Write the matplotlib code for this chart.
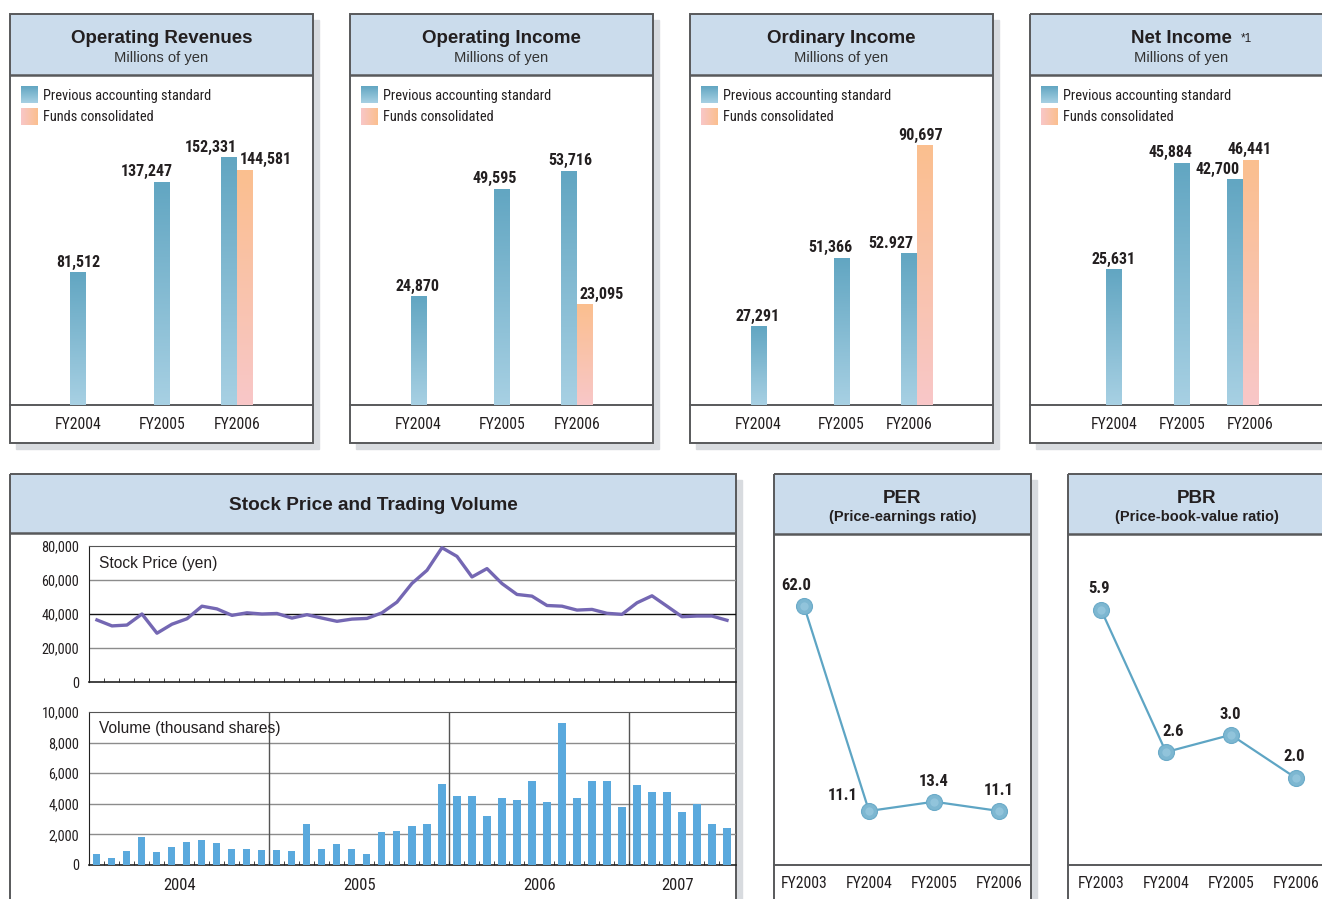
import numpy as np
import matplotlib
matplotlib.use('Agg')
import matplotlib.pyplot as plt
from matplotlib import font_manager as fm
from matplotlib.patches import Rectangle
from matplotlib.colors import LinearSegmentedColormap

W, H = 1322, 899

# ---- data ----
fy_bar = ['FY2004', 'FY2005', 'FY2006']
op_rev = [81512, 137247, 152331]
op_rev_funds = 144581
op_inc = [24870, 49595, 53716]
op_inc_funds = 23095
ord_inc = [27291, 51366, 52927]
ord_inc_funds = 90697
net_inc = [25631, 45884, 42700]
net_inc_funds = 46441

# monthly, stock price (yen) and volume (thousand shares)
price = [36500, 33000, 33500, 40000, 28700, 34000, 37200, 44600, 43000, 39200,
         40700, 40000, 40300, 37600, 39600, 37600, 35700, 37000, 37400, 40700,
         47000, 58000, 65700, 79000, 73900, 61800, 66700, 57900, 51500, 50500,
         45000, 44600, 42300, 42700, 40400, 39800, 46600, 50700, 44600, 38400,
         38800, 38800, 36300]
volume = [750, 430, 900, 1800, 840, 1160, 1480, 1610, 1420, 1030, 1030, 970,
          970, 900, 2710, 1030, 1350, 1030, 750, 2130, 2190, 2580, 2650, 5270,
          4520, 4520, 3230, 4390, 4260, 5480, 4130, 9290, 4390, 5480, 5480, 3810,
          5230, 4770, 4770, 3480, 4000, 2710, 2450]
years = ['2004', '2005', '2006', '2007']

fy_ratio = ['FY2003', 'FY2004', 'FY2005', 'FY2006']
per = [62.0, 11.1, 13.4, 11.1]
pbr = [5.9, 2.6, 3.0, 2.0]

# ---- style ----
avail = {f.name for f in fm.fontManager.ttflist}


def pick(*names):
    for n in names:
        if n in avail:
            return n
    return 'DejaVu Sans'


NARROW = pick('Liberation Sans Narrow', 'Roboto Condensed', 'DejaVu Sans')
SANS = pick('Liberation Sans', 'Roboto', 'DejaVu Sans')
INK = '#231f20'
HEAD = '#cbdcec'
EDGE = '#58595b'
BLUE_TOP, BLUE_BOT = '#62a6c2', '#a7d0e3'
ORNG_TOP, ORNG_BOT = '#fbbf8f', '#f8c7c8'

fig = plt.figure(figsize=(W / 100, H / 100), dpi=100)


def px_axes(x0, y0, x1, y1, z=1):
    ax = fig.add_axes([x0 / W, 1 - y1 / H, (x1 - x0) / W, (y1 - y0) / H])
    ax.set_zorder(z)
    return ax


def frame(x0, y0, x1, y1, head_h):
    w, h = x1 - x0, y1 - y0
    fig.patches.append(Rectangle(((x0 + 6) / W, 1 - (y1 + 6) / H), w / W, h / H,
                                 transform=fig.transFigure, color='#d8dbdf', zorder=-5))
    ax = px_axes(x0, y0, x1, y1, z=0)
    ax.set_xlim(0, w)
    ax.set_ylim(h, 0)
    ax.axis('off')
    ax.add_patch(Rectangle((0, 0), w, h, facecolor='white', edgecolor='none'))
    ax.add_patch(Rectangle((0, 0), w, head_h, facecolor=HEAD, edgecolor='none'))
    ax.plot([0, w], [head_h, head_h], color=EDGE, lw=1.8)
    ax.add_patch(Rectangle((0, 0), w, h, fill=False, edgecolor=EDGE, lw=1.4, clip_on=False, zorder=5))
    return ax


def grad(ax, extent, c0, c1, horizontal=False, z=3):
    cm = LinearSegmentedColormap.from_list('g', [c0, c1])
    arr = np.linspace(0, 1, 100)
    arr = arr.reshape(1, -1) if horizontal else arr.reshape(-1, 1)
    ax.imshow(arr, cmap=cm, origin='lower', extent=extent, aspect='auto',
              interpolation='bilinear', zorder=z)


def bar_panel(x0, title, prev, funds, texts, ymax, bar_x, lab_pos, tick_x, note=False):
    w = 303
    fr = frame(x0, 14, x0 + w, 443, 61)
    fr.text(w / 2, 24.5, title, ha='center', va='center', fontsize=13.5, fontweight='bold',
            family=SANS, color=INK)
    if note:
        fr.text(211, 24.5, '*1', ha='left', va='center', fontsize=8.5, family=SANS, color=INK)
    fr.text(w / 2, 44, 'Millions of yen', ha='center', va='center', fontsize=10.6, family=SANS,
            color='#333333')
    # legend
    grad(fr, (11, 28, 89, 72), BLUE_BOT, BLUE_TOP)
    grad(fr, (11, 28, 111, 94), ORNG_BOT, ORNG_TOP, horizontal=True)
    fr.set_xlim(0, w)
    fr.set_ylim(429, 0)
    fr.text(33, 82, 'Previous accounting standard', va='center', fontsize=10.4, family=NARROW, color=INK)
    fr.text(33, 103, 'Funds consolidated', va='center', fontsize=10.4, family=NARROW, color=INK)

    ax = px_axes(x0, 75, x0 + w, 405)
    ax.patch.set_alpha(0)
    xs = [bar_x[0], bar_x[1], bar_x[2] - 8]
    bars = ax.bar(xs, prev, width=16, color=BLUE_TOP)
    fb = ax.bar([bar_x[2] + 7.75], [funds], width=15.5, color=ORNG_TOP)
    for p in list(bars) + list(fb):
        c0, c1 = (BLUE_BOT, BLUE_TOP) if p in bars.patches else (ORNG_BOT, ORNG_TOP)
        grad(ax, (p.get_x(), p.get_x() + p.get_width(), 0, p.get_height()), c0, c1)
    vals = list(prev) + [funds]
    for v, t, (lx, ha) in zip(vals, texts, lab_pos):
        ax.annotate(t, (lx, v), xytext=(0, 3), textcoords='offset pixels', ha=ha, va='bottom',
                    fontsize=11.5, fontweight='bold', family=NARROW, color=INK)
    ax.set_xlim(0, w)
    ax.set_ylim(0, ymax)
    ax.set_yticks([])
    ax.set_xticks(tick_x, fy_bar)
    ax.tick_params(axis='x', length=0, pad=8.5, labelsize=11.3, labelcolor=INK)
    for lab in ax.get_xticklabels():
        lab.set_family(NARROW)
    for s in ['top', 'left', 'right']:
        ax.spines[s].set_visible(False)
    ax.spines['bottom'].set_color(EDGE)
    ax.spines['bottom'].set_linewidth(1.4)


bar_panel(10, 'Operating Revenues', op_rev, op_rev_funds,
          ['81,512', '137,247', '152,331', '144,581'], 203400, [68, 152, 227],
          [(68, 'center'), (137, 'center'), (227, 'right'), (230, 'left')], [68, 152, 227])
bar_panel(350, 'Operating Income', op_inc, op_inc_funds,
          ['24,870', '49,595', '53,716', '23,095'], 75900, [69, 152, 227],
          [(68, 'center'), (144.5, 'center'), (220, 'center'), (230, 'left')], [68, 152, 227])
bar_panel(690, 'Ordinary Income', ord_inc, ord_inc_funds,
          ['27,291', '51,366', '52.927', '90,697'], 115400, [69, 152, 227],
          [(68, 'center'), (140, 'center'), (223, 'right'), (231, 'center')], [68, 151, 219])
bar_panel(1030, 'Net Income', net_inc, net_inc_funds,
          ['25,631', '45,884', '42,700', '46,441'], 62600, [84, 152, 213],
          [(84, 'center'), (140, 'center'), (210, 'right'), (220, 'center')], [84, 152, 220], note=True)

# ---- stock price and volume ----
fr = frame(10, 474, 736, 910, 59)
fr.text(363, 32, 'Stock Price and Trading Volume', ha='center', va='center', fontsize=13.7,
        fontweight='bold', family=SANS, color=INK)

months = np.arange(len(price))
XL = (-0.53, 42.6)

axp = px_axes(89, 546, 736, 682)
axp.patch.set_alpha(0)
for yv, c in [(20000, '#8c8c8c'), (40000, '#111111'), (60000, '#8c8c8c')]:
    axp.axhline(yv, color=c, lw=1, zorder=1)
axp.plot(months, price, color='#7467b3', lw=2.4, zorder=3, solid_joinstyle='round')
axp.set_xlim(*XL)
axp.set_ylim(0, 80000)
axp.set_yticks(range(0, 80001, 20000), [f'{v:,}' for v in range(0, 80001, 20000)])
axp.set_xticks([])
axp.set_xticks(np.arange(0.5, len(price) - 1, 1), minor=True)
axp.tick_params(axis='y', length=0, pad=7, labelsize=10.3, labelcolor=INK)
axp.tick_params(axis='x', which='minor', direction='in', length=3, color='#222222')
for lab in axp.get_yticklabels():
    lab.set_family(NARROW)
axp.spines['right'].set_visible(False)
axp.spines['top'].set_color('#555555')
axp.spines['left'].set_color('#222222')
axp.spines['bottom'].set_color('#222222')
axp.spines['bottom'].set_linewidth(1.2)
axp.text(0.0155, 0.87, 'Stock Price (yen)', transform=axp.transAxes, va='center',
         fontsize=11.2, family=SANS, color=INK)

axv = px_axes(89, 712, 736, 865)
axv.patch.set_alpha(0)
for yv in range(2000, 10000, 2000):
    axv.axhline(yv, color='#8c8c8c', lw=1, zorder=1)
for xv in [11.5, 23.5, 35.5]:
    axv.axvline(xv, color='#555555', lw=1, zorder=1)
axv.bar(months, volume, width=0.47, color='#5aa9dd', zorder=3)
axv.set_xlim(*XL)
axv.set_ylim(0, 10000)
axv.set_yticks(range(0, 10001, 2000), [f'{v:,}' for v in range(0, 10001, 2000)])
axv.set_xticks([5.5, 17.5, 29.5, 38.7], years)
axv.set_xticks(np.arange(0.5, len(volume) - 1, 1), minor=True)
axv.tick_params(axis='y', length=0, pad=7, labelsize=10.3, labelcolor=INK)
axv.tick_params(axis='x', which='major', length=0, pad=9, labelsize=12, labelcolor=INK)
axv.tick_params(axis='x', which='minor', direction='in', length=3, color='#222222')
for lab in axv.get_yticklabels() + axv.get_xticklabels():
    lab.set_family(NARROW)
axv.spines['right'].set_visible(False)
axv.spines['top'].set_color('#555555')
axv.spines['left'].set_color('#222222')
axv.spines['bottom'].set_color('#222222')
axv.spines['bottom'].set_linewidth(1.2)
axv.text(0.0155, 0.89, 'Volume (thousand shares)', transform=axv.transAxes, va='center',
         fontsize=11.2, family=SANS, color=INK)


# ---- PER / PBR ----
def ratio_panel(x0, title, sub, vals, ylim, xlim, offsets):
    w = 257
    fr = frame(x0, 474, x0 + w, 910, 60)
    fr.text(w / 2, 24.5, title, ha='center', va='center', fontsize=13.5, fontweight='bold',
            family=SANS, color=INK)
    fr.text(w / 2, 42.5, sub, ha='center', va='center', fontsize=10.5, fontweight='bold',
            family=SANS, color=INK)
    ax = px_axes(x0, 534, x0 + w, 865)
    ax.patch.set_alpha(0)
    xs = np.arange(len(vals))
    ax.plot(xs, vals, color='#5ea5c4', lw=1.6, zorder=2)
    ax.plot(xs, vals, 'o', ms=11.5, mfc='#7db7d1', mec='#6aaac8', mew=0.8, zorder=3)
    ax.plot(xs, vals, 'o', ms=6, mfc='#9fcde2', mec='none', alpha=0.6, zorder=4)
    for x, v, (dx, dy) in zip(xs, vals, offsets):
        ax.annotate(f'{v:.1f}', (x, v), xytext=(dx, dy), textcoords='offset pixels',
                    ha='center', va='center', fontsize=12, fontweight='bold',
                    family=NARROW, color=INK)
    ax.set_xlim(*xlim)
    ax.set_ylim(*ylim)
    ax.set_yticks([])
    ax.set_xticks(xs, fy_ratio)
    ax.tick_params(axis='x', length=0, pad=8, labelsize=11.3, labelcolor=INK)
    for lab in ax.get_xticklabels():
        lab.set_family(NARROW)
    for s in ['top', 'left', 'right']:
        ax.spines[s].set_visible(False)
    ax.spines['bottom'].set_color(EDGE)
    ax.spines['bottom'].set_linewidth(1.4)


ratio_panel(774, 'PER', '(Price-earnings ratio)', per, (-2.3, 79.8), (-0.46, 3.49),
            [(-8, 20), (-26, 15), (0, 20), (0, 20)])
ratio_panel(1068, 'PBR', '(Price-book-value ratio)', pbr, (-0.02, 7.66), (-0.51, 3.45),
            [(-2, 21), (7, 21), (-1, 20), (-2, 21)])

fig.savefig('out.png', dpi=100)
